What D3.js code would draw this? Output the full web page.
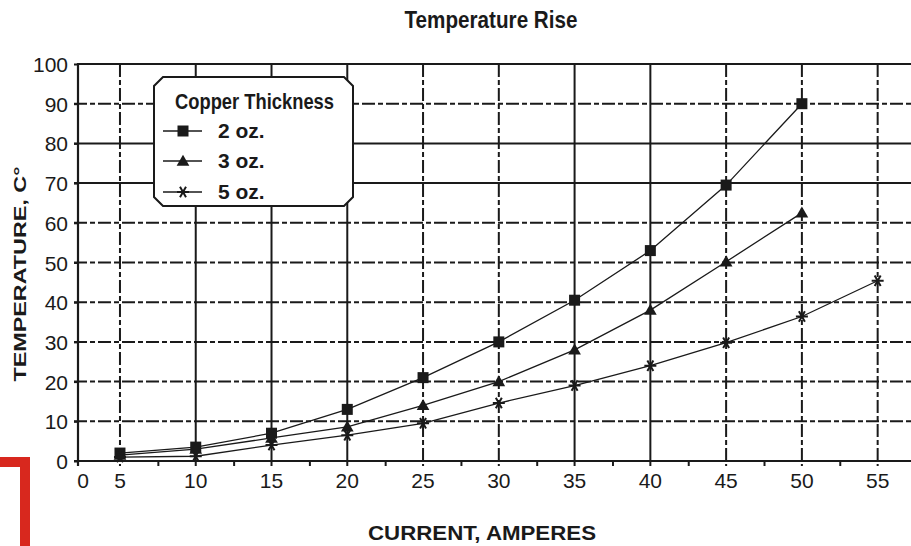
<!DOCTYPE html>
<html>
<head>
<meta charset="utf-8">
<script src="https://cdn.jsdelivr.net/npm/d3@7"></script>
<style>
  html, body { margin: 0; padding: 0; background: #fff; }
  svg { display: block; }
  text { font-family: "Liberation Sans", Arial, Helvetica, sans-serif; fill: #1a1a1a; }
</style>
</head>
<body>
<svg id="chart" width="911" height="546"></svg>
<script>
// ---- data ----
const chartTitle = "Temperature Rise";
const xTitle = "CURRENT, AMPERES";
const yTitle = "TEMPERATURE, C\u00B0";
const legendTitle = "Copper Thickness";
const seriesNames = ["2 oz.", "3 oz.", "5 oz."];
const amps2oz = [5, 10, 15, 20, 25, 30, 35, 40, 45, 50];
const temp2oz = [2, 3.5, 7, 13, 21, 30, 40.5, 53, 69.5, 90];
const amps3oz = [5, 10, 15, 20, 25, 30, 35, 40, 45, 50];
const temp3oz = [1.5, 3, 5.8, 8.6, 14, 20, 28, 38, 50.2, 62.5];
const amps5oz = [5, 10, 15, 20, 25, 30, 35, 40, 45, 50, 55];
const temp5oz = [1, 1.2, 4, 6.5, 9.5, 14.6, 19, 24, 29.8, 36.4, 45.4];
const xTickValues = [5, 10, 15, 20, 25, 30, 35, 40, 45, 50, 55];
const xMinorTicks = [7.5, 12.5, 17.5, 22.5, 27.5, 32.5, 37.5, 42.5, 47.5, 52.5];
const yTickValues = [0, 10, 20, 30, 40, 50, 60, 70, 80, 90, 100];

// ---- styling / layout ----
const ink = "#1a1a1a";
const dashedX = new Set([5, 25, 30, 45, 50, 55]);
const solidY = new Set([70, 80]);
const gridDash = "13,3,5,3";

const svg = d3.select("#chart");
const x = d3.scaleLinear().domain([2.23, 57.2]).range([78, 911]);
const y = d3.scaleLinear().domain([0, 100]).range([461, 64]);

// red corner mark
svg.append("path")
  .attr("d", "M0,457 H30 V546 H20 V467 H0 Z")
  .attr("fill", "#d8281e");

// horizontal gridlines
svg.append("g").selectAll("line")
  .data(yTickValues.filter(v => v > 0 && v < 100))
  .join("line")
  .attr("x1", x.range()[0] - 4).attr("x2", x.range()[1])
  .attr("y1", d => y(d)).attr("y2", d => y(d))
  .attr("stroke", ink).attr("stroke-width", 2)
  .attr("stroke-dasharray", d => solidY.has(d) ? null : gridDash);

// vertical gridlines
svg.append("g").selectAll("line")
  .data(xTickValues)
  .join("line")
  .attr("x1", d => x(d)).attr("x2", d => x(d))
  .attr("y1", y(100)).attr("y2", y(0) + 5)
  .attr("stroke", ink).attr("stroke-width", 2)
  .attr("stroke-dasharray", d => dashedX.has(d) ? gridDash : null);

// top border
svg.append("line")
  .attr("x1", x.range()[0]).attr("x2", x.range()[1])
  .attr("y1", y(100)).attr("y2", y(100))
  .attr("stroke", ink).attr("stroke-width", 2);

// bottom axis
const xAxis = d3.axisBottom(x).tickValues(xMinorTicks).tickSize(5).tickFormat("");
const gx = svg.append("g").attr("transform", `translate(0,${y(0)})`).call(xAxis);
gx.select(".domain").remove();
gx.selectAll(".tick line").attr("stroke", ink).attr("stroke-width", 2);
svg.append("line")
  .attr("x1", x.range()[0] - 4).attr("x2", x.range()[1])
  .attr("y1", y(0)).attr("y2", y(0))
  .attr("stroke", ink).attr("stroke-width", 2.2);

// x tick labels
const xl = svg.append("g").attr("font-size", 21).attr("text-anchor", "middle");
xl.selectAll("text").data(xTickValues).join("text")
  .attr("x", d => x(d)).attr("y", y(0) + 27).text(d => d);
xl.append("text").attr("x", x.range()[0] + 5).attr("y", y(0) + 27).text("0");

// left axis
const yAxis = d3.axisLeft(y).tickValues(yTickValues).tickSize(4).tickPadding(6);
const gy = svg.append("g").attr("transform", `translate(${x.range()[0]},0)`).call(yAxis);
gy.select(".domain").remove();
gy.selectAll(".tick line").attr("stroke", ink).attr("stroke-width", 2);
gy.selectAll(".tick text").attr("font-size", 21).attr("font-family", "'Liberation Sans', Arial, sans-serif").attr("fill", ink).attr("dy", "0.36em");
svg.append("line")
  .attr("x1", x.range()[0]).attr("x2", x.range()[0])
  .attr("y1", y(100) - 1).attr("y2", y(0) + 5)
  .attr("stroke", ink).attr("stroke-width", 2.2);

// titles
svg.append("text").attr("x", 491).attr("y", 28).attr("text-anchor", "middle")
  .attr("font-size", 24).attr("font-weight", "bold")
  .attr("textLength", 173).attr("lengthAdjust", "spacingAndGlyphs")
  .text(chartTitle);
svg.append("text").attr("x", 482).attr("y", 540).attr("text-anchor", "middle")
  .attr("font-size", 20).attr("font-weight", "bold")
  .attr("textLength", 228).attr("lengthAdjust", "spacingAndGlyphs")
  .text(xTitle);
svg.append("text").attr("transform", "translate(26,274) rotate(-90)")
  .attr("text-anchor", "middle")
  .attr("font-size", 17).attr("font-weight", "bold")
  .attr("textLength", 215).attr("lengthAdjust", "spacingAndGlyphs")
  .text(yTitle);

// markers
function drawMarker(g, kind, cx, cy) {
  if (kind === 0) {
    g.append("rect").attr("x", cx - 5.5).attr("y", cy - 5.5).attr("width", 11).attr("height", 11).attr("fill", ink);
  } else if (kind === 1) {
    g.append("path").attr("d", d3.symbol(d3.symbolTriangle, 70)()).attr("transform", `translate(${cx},${cy + 1})`).attr("fill", ink);
  } else {
    const r = 6;
    const p = d3.path();
    [0, 60, 120].forEach(a => {
      const rad = a * Math.PI / 180;
      p.moveTo(cx - r * Math.cos(rad), cy - r * Math.sin(rad));
      p.lineTo(cx + r * Math.cos(rad), cy + r * Math.sin(rad));
    });
    g.append("path").attr("d", p.toString()).attr("stroke", ink).attr("stroke-width", 2).attr("fill", "none");
  }
}

const series = [
  { xs: amps2oz, ys: temp2oz },
  { xs: amps3oz, ys: temp3oz },
  { xs: amps5oz, ys: temp5oz }
];
const line = d3.line().x(d => x(d[0])).y(d => y(d[1]));
series.forEach((s, i) => {
  const pts = s.xs.map((v, j) => [v, s.ys[j]]);
  const g = svg.append("g");
  g.append("path").attr("d", line(pts)).attr("fill", "none").attr("stroke", ink).attr("stroke-width", 1.3);
  pts.forEach(p => drawMarker(g, i, x(p[0]), y(p[1])));
});

// legend
const L = { x0: 154, y0: 77, x1: 353, y1: 206, c: 9 };
svg.append("path")
  .attr("d", `M${L.x0 + L.c},${L.y0} H${L.x1 - L.c} L${L.x1},${L.y0 + L.c} V${L.y1 - L.c} L${L.x1 - L.c},${L.y1} H${L.x0 + L.c} L${L.x0},${L.y1 - L.c} V${L.y0 + L.c} Z`)
  .attr("fill", "#fff").attr("stroke", ink).attr("stroke-width", 2);
svg.append("text").attr("x", 175).attr("y", 109)
  .attr("font-size", 21.5).attr("font-weight", "bold")
  .attr("textLength", 159).attr("lengthAdjust", "spacingAndGlyphs")
  .text(legendTitle);
const rowY = [131, 161, 192];
seriesNames.forEach((name, i) => {
  const g = svg.append("g");
  g.append("line").attr("x1", 163).attr("x2", 202).attr("y1", rowY[i]).attr("y2", rowY[i])
    .attr("stroke", ink).attr("stroke-width", 1.5);
  drawMarker(g, i, 183, rowY[i]);
  g.append("text").attr("x", 218).attr("y", rowY[i] + 7)
    .attr("font-size", 21).attr("font-weight", "bold").text(name);
});
</script>
</body>
</html>
